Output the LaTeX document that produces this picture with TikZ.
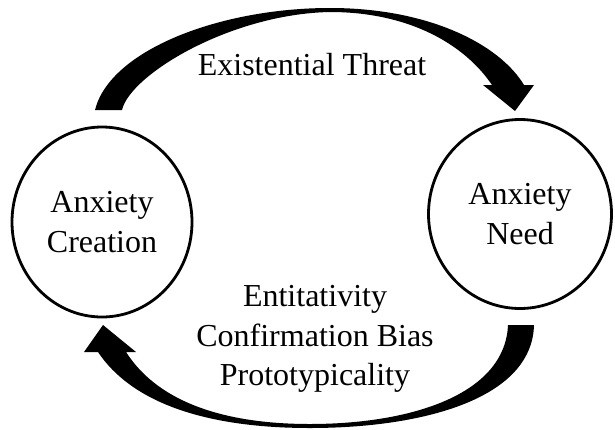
\documentclass[tikz,border=0pt]{standalone}
\usepackage{fontspec}
\setmainfont{Liberation Serif}
\usetikzlibrary{shapes.geometric}
\begin{document}
\begin{tikzpicture}[x=1pt,y=-1pt,
  state/.style={draw, ellipse, line width=2.8pt, inner sep=0pt, align=center,
    font=\fontsize{32}{40}\selectfont},
  lbl/.style={align=center, inner sep=0pt, font=\fontsize{32}{40}\selectfont},
  bigarrow/.style={fill=black, draw=none}]
\useasboundingbox (0,0) rectangle (615,429);
\node[state, minimum width=180pt, minimum height=190pt] (create) at (102,222) {Anxiety\\Creation};
\node[state, minimum width=183pt, minimum height=189pt] (need) at (520,214) {Anxiety\\Need};
\node[lbl, anchor=base] (threat) at (312,75) {Existential Threat};
\node[lbl, anchor=base] (ent) at (315,306) {Entitativity};
\node[lbl, anchor=base] (conf) at (315,346) {Confirmation Bias};
\node[lbl, anchor=base] (proto) at (315,385) {Prototypicality};
% top arrow: Anxiety Creation -> Anxiety Need
\fill[bigarrow] (95,110) .. controls (110,50) and (220,8) .. (330,8)
  .. controls (430,8) and (500,45) .. (524,85)
  -- (534,85) -- (515,111) -- (483,85) -- (492,85)
  .. controls (465,45) and (410,12) .. (330,12)
  .. controls (230,14) and (130,75) .. (122,110) -- cycle;
% bottom arrow: Anxiety Need -> Anxiety Creation
\fill[bigarrow] (534,325) .. controls (532,400) and (420,428) .. (310,428)
  .. controls (200,428) and (130,400) .. (98,352)
  -- (84,352) -- (103,325) -- (136,352) -- (126,352)
  .. controls (160,405) and (230,424) .. (310,424)
  .. controls (410,424) and (505,395) .. (508,325) -- cycle;
\end{tikzpicture}
\end{document}
